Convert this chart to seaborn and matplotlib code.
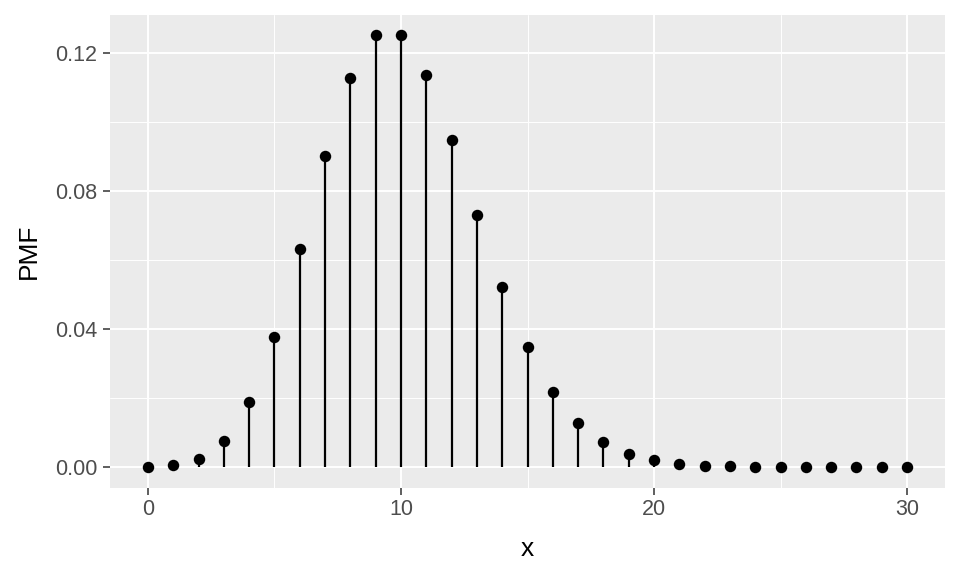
import numpy as np
import pandas as pd
import matplotlib
matplotlib.use("Agg")
import matplotlib.pyplot as plt
import seaborn as sns

x_vals = list(range(0, 31))
pmf_vals = [0.0000454, 0.000454, 0.00227, 0.00757, 0.0189, 0.0378, 0.0631,
            0.0901, 0.1126, 0.1251, 0.1251, 0.1137, 0.0948, 0.0729, 0.0521,
            0.0347, 0.0217, 0.0128, 0.00709, 0.00373, 0.00187, 0.00089,
            0.00040, 0.00018, 0.000075, 0.00003, 0.000012, 0.0000045,
            0.0000016, 0.0000005, 0.0000002]

df = pd.DataFrame({"x": x_vals, "PMF": pmf_vals})

sns.set_theme(style="darkgrid", rc={
    "axes.facecolor": "#EBEBEB",
    "grid.color": "white",
    "axes.edgecolor": "#EBEBEB",
})
plt.rcParams['font.family'] = ['Liberation Sans', 'DejaVu Sans']

fig = plt.figure(figsize=(9.6, 5.76), dpi=100)
ax = fig.add_axes([0.1146, 0.1528, 0.8698, 0.8212])

ax.vlines(df["x"], 0, df["PMF"], color="black", linewidth=1.6, zorder=3)
sns.scatterplot(data=df, x="x", y="PMF", color="black", s=68, linewidth=0, ax=ax, zorder=4)

ax.set_xlim(-1.5, 31.5)
ax.set_ylim(-0.0061, 0.131)
ax.set_xticks([0, 10, 20, 30])
ax.set_xticks([5, 15, 25], minor=True)
ax.set_yticks([0, 0.04, 0.08, 0.12])
ax.set_yticks([0.02, 0.06, 0.10], minor=True)
ax.set_yticklabels(["0.00", "0.04", "0.08", "0.12"])
ax.grid(which="major", color="white", linewidth=1.4)
ax.grid(which="minor", color="white", linewidth=0.7)
ax.tick_params(axis="both", which="major", labelsize=15.5, labelcolor="#4D4D4D",
               length=5, color="#333333", width=1.1, bottom=True, left=True)
ax.tick_params(axis="x", which="major", pad=3)
ax.tick_params(axis="y", which="major", pad=4)
ax.tick_params(axis="both", which="minor", length=0)
ax.set_xlabel("x", fontsize=19, color="black", labelpad=12)
ax.set_ylabel("PMF", fontsize=19, color="black", labelpad=10)
for s in ax.spines.values():
    s.set_visible(False)

fig.savefig("out.png", dpi=100)
